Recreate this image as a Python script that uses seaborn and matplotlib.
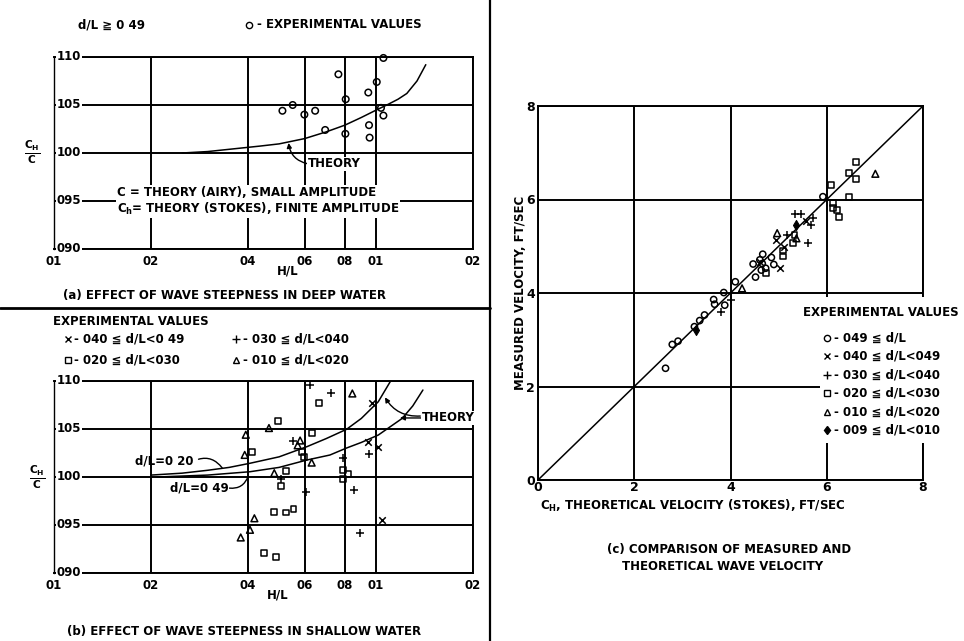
import numpy as np
import pandas as pd
import matplotlib
matplotlib.use("Agg")
import matplotlib.pyplot as plt
import seaborn as sns
from matplotlib.lines import Line2D
from matplotlib.patches import Rectangle
from matplotlib.ticker import NullLocator

# ---------------- data ----------------
# common axes for panels (a) and (b)
hl_ticks = [0.01, 0.02, 0.04, 0.06, 0.08, 0.1, 0.2]
hl_tick_labels = ["01", "02", "04", "06", "08", "01", "02"]
ratio_ticks = [0.90, 0.95, 1.00, 1.05, 1.10]
ratio_tick_labels = ["090", "095", "100", "105", "110"]

# panel (a): deep water, d/L >= 0.49
a_hl = [0.0512, 0.0551, 0.0599, 0.0647, 0.0695, 0.0764, 0.0805, 0.0803,
        0.0946, 0.0951, 0.0955, 0.1005, 0.1036, 0.1054, 0.1054]
a_ratio = [1.044, 1.050, 1.040, 1.044, 1.024, 1.082, 1.056, 1.020,
           1.063, 1.029, 1.016, 1.074, 1.047, 1.039, 1.099]
theory_deep_hl = [0.025, 0.03, 0.0436, 0.05, 0.06, 0.07, 0.08, 0.09, 0.1005,
                  0.108, 0.117, 0.1246, 0.134, 0.1427]
theory_deep_ratio = [1.000, 1.0015, 1.0072, 1.0095, 1.015, 1.022, 1.029, 1.037,
                     1.045, 1.050, 1.056, 1.062, 1.075, 1.092]

# panel (b): shallow water
b_tri_hl = [0.0394, 0.0391, 0.0465, 0.0419, 0.0406, 0.0380, 0.0483, 0.0571, 0.0581, 0.0631, 0.0844]
b_tri_ratio = [1.044, 1.023, 1.051, 0.957, 0.945, 0.937, 1.004, 1.033, 1.038, 1.015, 1.087]
b_sq_hl = [0.0495, 0.0411, 0.0524, 0.0506, 0.0482, 0.0525, 0.0554, 0.0450, 0.0489,
           0.0631, 0.0667, 0.0588, 0.0598, 0.0788, 0.0791, 0.0817]
b_sq_ratio = [1.058, 1.026, 1.006, 0.991, 0.964, 0.963, 0.967, 0.921, 0.917,
              1.046, 1.077, 1.026, 1.021, 1.007, 0.998, 1.003]
b_plus_hl = [0.0624, 0.0725, 0.0554, 0.0507, 0.0605, 0.0791, 0.0857, 0.0892, 0.0951]
b_plus_ratio = [1.096, 1.087, 1.038, 0.998, 0.984, 1.020, 0.986, 0.942, 1.024]
b_x_hl = [0.0970, 0.0946, 0.1012, 0.1042]
b_x_ratio = [1.077, 1.036, 1.031, 0.955]

theory_020_hl = [0.02, 0.025, 0.03, 0.035, 0.0406, 0.05, 0.061, 0.07, 0.081, 0.09, 0.1016, 0.1118]
theory_020_ratio = [1.002, 1.004, 1.007, 1.010, 1.0143, 1.021, 1.0316, 1.040, 1.0497, 1.061, 1.0784, 1.1018]
theory_049_hl = [0.0209, 0.03, 0.0406, 0.05, 0.061, 0.0719, 0.081, 0.09, 0.1016, 0.1205, 0.13, 0.1398]
theory_049_ratio = [1.000, 1.002, 1.0055, 1.010, 1.0177, 1.0229, 1.0302, 1.036, 1.0437, 1.061, 1.074, 1.0906]

# panel (c): measured vs theoretical velocity (ft/sec)
vel_ticks = [0, 2, 4, 6, 8]
diag_line = [0, 8]
c_circ_x = [2.65, 2.79, 2.91, 3.25, 3.36, 3.46, 3.65, 3.67, 3.86, 3.88, 4.10, 4.47, 4.52,
            4.61, 4.67, 4.66, 4.64, 4.73, 4.85, 4.90, 5.92]
c_circ_y = [2.39, 2.90, 2.97, 3.28, 3.41, 3.53, 3.86, 3.76, 4.01, 3.74, 4.24, 4.62, 4.34,
            4.71, 4.83, 4.63, 4.49, 4.53, 4.76, 4.61, 6.06]
c_x_x = [4.94, 5.03, 4.62, 5.12, 5.57]
c_x_y = [5.13, 4.53, 4.67, 4.99, 5.53]
c_plus_x = [3.81, 4.00, 5.17, 5.35, 5.47, 5.61, 5.68, 5.71]
c_plus_y = [3.59, 3.85, 5.24, 5.70, 5.70, 5.06, 5.45, 5.60]
c_sq_x = [4.73, 5.09, 5.09, 5.30, 5.33, 6.09, 6.13, 6.13, 6.22, 6.25, 6.47, 6.46, 6.61, 6.61]
c_sq_y = [4.42, 4.78, 4.91, 5.06, 5.24, 6.31, 5.92, 5.81, 5.78, 5.63, 6.06, 6.57, 6.44, 6.81]
c_tri_x = [4.24, 4.97, 5.37, 7.01]
c_tri_y = [4.10, 5.28, 5.17, 6.55]
c_dia_x = [5.37, 3.29]
c_dia_y = [5.45, 3.21]

# ---------------- style ----------------
sns.set_style("white")
plt.rcParams["font.family"] = ["DejaVu Sans"]
plt.rcParams["font.weight"] = "bold"
plt.rcParams["font.size"] = 8.5
plt.rcParams["mathtext.fontset"] = "dejavusans"
plt.rcParams["mathtext.default"] = "bf"
plt.rcParams["xtick.color"] = "k"
plt.rcParams["ytick.color"] = "k"
plt.rcParams["text.color"] = "k"

W, H = 964, 641
fig = plt.figure(figsize=(W / 100, H / 100), dpi=100)
fig.patch.set_facecolor("white")


def fx(px):
    return px / W


def fy(py):
    return 1 - py / H


def ax_rect(l, t, r, b):
    return [fx(l), fy(b), (r - l) / W, (b - t) / H]


ax_a = fig.add_axes(ax_rect(54, 57, 473, 249))
ax_b = fig.add_axes(ax_rect(54, 381, 473, 573))
ax_c = fig.add_axes(ax_rect(538, 106, 923, 480))

FS = 8.5
TXT = dict(fontsize=FS, fontweight="bold", color="k")


def style_ratio_axes(ax):
    ax.set_xscale("log")
    ax.set_xlim(0.01, 0.2)
    ax.set_ylim(0.90, 1.10)
    ax.xaxis.set_minor_locator(NullLocator())
    ax.set_xticks(hl_ticks)
    ax.set_xticklabels(hl_tick_labels)
    ax.set_yticks(ratio_ticks)
    ax.tick_params(axis="both", length=0, labelcolor="k")
    ax.tick_params(axis="y", labelleft=False)
    ax.tick_params(axis="x", pad=4, labelsize=FS)
    ax.grid(True, color="k", lw=1.4)
    for s in ax.spines.values():
        s.set_visible(True)
        s.set_color("k")
        s.set_linewidth(1.4)
    ax.spines["left"].set_linewidth(1.0)
    ax.set_xlabel("")
    ax.set_ylabel("")
    for v, lab in zip(ratio_ticks, ratio_tick_labels):
        ax.text(0.006, v, lab, transform=ax.get_yaxis_transform(), ha="left",
                va="center", bbox=dict(fc="w", ec="none", pad=0.6), zorder=4, **TXT)


style_ratio_axes(ax_a)
style_ratio_axes(ax_b)

OPEN = dict(facecolor="none", edgecolor="k", linewidth=1.1, zorder=5, clip_on=False)
LINE = dict(linewidth=1.1, zorder=5, clip_on=False)

# ---- panel (a)
sns.lineplot(x=theory_deep_hl, y=theory_deep_ratio, ax=ax_a, color="k", lw=1.1,
             sort=False, estimator=None)
sns.scatterplot(x=a_hl, y=a_ratio, ax=ax_a, marker="o", s=22, **OPEN)
ax_a.set_xlabel("")
ax_a.set_ylabel("")

ax_a.annotate("THEORY", xy=(0.0535, 1.0105), xytext=(0.0615, 0.9887),
              ha="left", va="center", zorder=6,
              bbox=dict(fc="w", ec="none", pad=0.5),
              arrowprops=dict(arrowstyle="-|>", color="k", lw=1.0, mutation_scale=7,
                              connectionstyle="arc3,rad=-0.35", shrinkA=0, shrinkB=0,
                              relpos=(0, 0.5)), **TXT)
ax_a.text(0.0157, 0.9585, "C = THEORY (AIRY), SMALL AMPLITUDE", ha="left", va="center",
          bbox=dict(fc="w", ec="none", pad=0.8), zorder=6, **TXT)
ax_a.text(0.0157, 0.9415, r"C$_\mathbf{h}$= THEORY (STOKES), FINITE AMPLITUDE", ha="left",
          va="center", bbox=dict(fc="w", ec="none", pad=0.8), zorder=6, **TXT)

# ---- panel (b)
for xs, ys in [(theory_020_hl, theory_020_ratio), (theory_049_hl, theory_049_ratio)]:
    sns.lineplot(x=xs, y=ys, ax=ax_b, color="k", lw=1.1, sort=False, estimator=None)
sns.scatterplot(x=b_tri_hl, y=b_tri_ratio, ax=ax_b, marker="^", s=24, **OPEN)
sns.scatterplot(x=b_sq_hl, y=b_sq_ratio, ax=ax_b, marker="s", s=18, **OPEN)
sns.scatterplot(x=b_plus_hl, y=b_plus_ratio, ax=ax_b, marker="+", s=28, color="k",
                edgecolor="k", **LINE)
sns.scatterplot(x=b_x_hl, y=b_x_ratio, ax=ax_b, marker="x", s=22, color="k",
                edgecolor="k", **LINE)
ax_b.set_xlabel("")
ax_b.set_ylabel("")

ax_b.annotate("d/L=0 20", xy=(0.0333, 1.0094), xytext=(0.0179, 1.0167), ha="left",
              va="center", zorder=6,
              arrowprops=dict(arrowstyle="-", color="k", lw=1.0,
                              connectionstyle="arc3,rad=-0.4", shrinkA=1, shrinkB=0,
                              relpos=(1, 0.5)), **TXT)
ax_b.annotate("d/L=0 49", xy=(0.0401, 1.001), xytext=(0.0229, 0.9885), ha="left",
              va="center", zorder=6,
              bbox=dict(fc="w", ec="none", pad=0.5),
              arrowprops=dict(arrowstyle="-", color="k", lw=1.0,
                              connectionstyle="arc3,rad=0.4", shrinkA=0, shrinkB=0,
                              relpos=(1, 0.5)), **TXT)
ax_b.annotate("THEORY", xy=(0.1186, 1.0615), xytext=(0.1389, 1.0615), ha="left",
              va="center", zorder=6,
              bbox=dict(fc="w", ec="none", pad=0.5),
              arrowprops=dict(arrowstyle="-|>", color="k", lw=1.0, mutation_scale=7,
                              shrinkA=0, shrinkB=0, relpos=(0, 0.5)), **TXT)
ax_b.annotate("", xy=(0.1066, 1.083), xytext=(0.1372, 1.0635), zorder=6,
              arrowprops=dict(arrowstyle="-|>", color="k", lw=1.0, mutation_scale=7,
                              connectionstyle="arc3,rad=-0.3", shrinkA=0, shrinkB=0))

# ---- panel (c)
ax_c.set_xlim(0, 8)
ax_c.set_ylim(0, 8)
ax_c.set_xticks(vel_ticks)
ax_c.set_yticks(vel_ticks)
ax_c.set_xticklabels([str(v) for v in vel_ticks])
ax_c.set_yticklabels([str(v) for v in vel_ticks])
ax_c.tick_params(axis="both", length=0, labelsize=FS + 0.5, labelcolor="k")
ax_c.tick_params(axis="x", pad=1)
ax_c.tick_params(axis="y", pad=2)
ax_c.grid(True, color="k", lw=1.4)
for s in ax_c.spines.values():
    s.set_visible(True)
    s.set_color("k")
    s.set_linewidth(1.4)

sns.lineplot(x=diag_line, y=diag_line, ax=ax_c, color="k", lw=1.1, sort=False, estimator=None)
sns.scatterplot(x=c_circ_x, y=c_circ_y, ax=ax_c, marker="o", s=20, **OPEN)
sns.scatterplot(x=c_sq_x, y=c_sq_y, ax=ax_c, marker="s", s=18, **OPEN)
sns.scatterplot(x=c_tri_x, y=c_tri_y, ax=ax_c, marker="^", s=24, **OPEN)
sns.scatterplot(x=c_plus_x, y=c_plus_y, ax=ax_c, marker="+", s=30, color="k",
                edgecolor="k", **LINE)
sns.scatterplot(x=c_x_x, y=c_x_y, ax=ax_c, marker="x", s=22, color="k",
                edgecolor="k", **LINE)
sns.scatterplot(x=c_dia_x, y=c_dia_y, ax=ax_c, marker="d", s=26, color="k",
                edgecolor="k", linewidth=0.8, zorder=5)
ax_c.set_xlabel("")
ax_c.set_ylabel("")

# white area that interrupts the grid behind the legend
ax_c.add_patch(Rectangle((5.85, 0.79), 2.6, 3.13, fc="w", ec="none", zorder=3,
                         clip_on=False))

# ---------------- figure-level text and markers ----------------


def fmark(px, py, marker, filled=False, ms=4.5):
    fig.add_artist(Line2D([fx(px)], [fy(py)], marker=marker, ls="none", ms=ms,
                          mfc="k" if filled else "none", mec="k", mew=1.0))


def ftext(px, py, s, ha="left", **kw):
    fig.text(fx(px), fy(py), s, ha=ha, va="center", **{**TXT, **kw})


# panel (a) header / labels
ftext(78, 25, "d/L \u2267 0 49")
fmark(249, 25, "o")
ftext(257, 25, "- EXPERIMENTAL VALUES")
ftext(32, 152, r"$\frac{\mathbf{C_H}}{\mathbf{C}}$", ha="center", fontsize=11)
ftext(277, 271, "H/L")
ftext(63, 295, "(a) EFFECT OF WAVE STEEPNESS IN DEEP WATER")

# panel (b) header / labels
ftext(53, 322, "EXPERIMENTAL VALUES")
fmark(68, 339, "x")
ftext(74, 339, "- 040 \u2266 d/L<0 49")
fmark(236, 339, "+", ms=5.5)
ftext(243, 339, "- 030 \u2266 d/L<040")
fmark(68, 360, "s", ms=4)
ftext(74, 360, "- 020 \u2266 d/L<030")
fmark(236, 360, "^")
ftext(243, 360, "- 010 \u2266 d/L<020")
ftext(37, 477, r"$\frac{\mathbf{C_H}}{\mathbf{C}}$", ha="center", fontsize=11)
ftext(267, 595, "H/L")
ftext(67, 631, "(b) EFFECT OF WAVE STEEPNESS IN SHALLOW WATER")

# panel (c) labels and legend
fig.text(fx(520), fy(293), "MEASURED VELOCITY, FT/SEC", rotation=90, ha="center",
         va="center", **TXT)
ftext(540, 506, r"C$_\mathbf{H}$, THEORETICAL VELOCITY (STOKES), FT/SEC")
ftext(729, 550, "(c) COMPARISON OF MEASURED AND", ha="center")
ftext(723, 567, "THEORETICAL WAVE VELOCITY", ha="center")

ftext(803, 313, "EXPERIMENTAL VALUES")
legend_rows = [
    ("o", False, "- 049 \u2266 d/L"),
    ("x", False, "- 040 \u2266 d/L<049"),
    ("+", False, "- 030 \u2266 d/L<040"),
    ("s", False, "- 020 \u2266 d/L<030"),
    ("^", False, "- 010 \u2266 d/L<020"),
    ("d", True, "- 009 \u2266 d/L<010"),
]
for i, (mk, filled, lab) in enumerate(legend_rows):
    py = 338 + i * 18.4
    fmark(827, py, mk, filled=filled, ms=5.5 if mk == "+" else 4.5)
    ftext(834, py, lab)

# separators between panels
fig.add_artist(Line2D([0, fx(490)], [fy(308), fy(308)], color="k", lw=2.0))
fig.add_artist(Line2D([fx(490), fx(490)], [0, 1], color="k", lw=1.6))

fig.savefig("out.png", dpi=100, facecolor="white")
